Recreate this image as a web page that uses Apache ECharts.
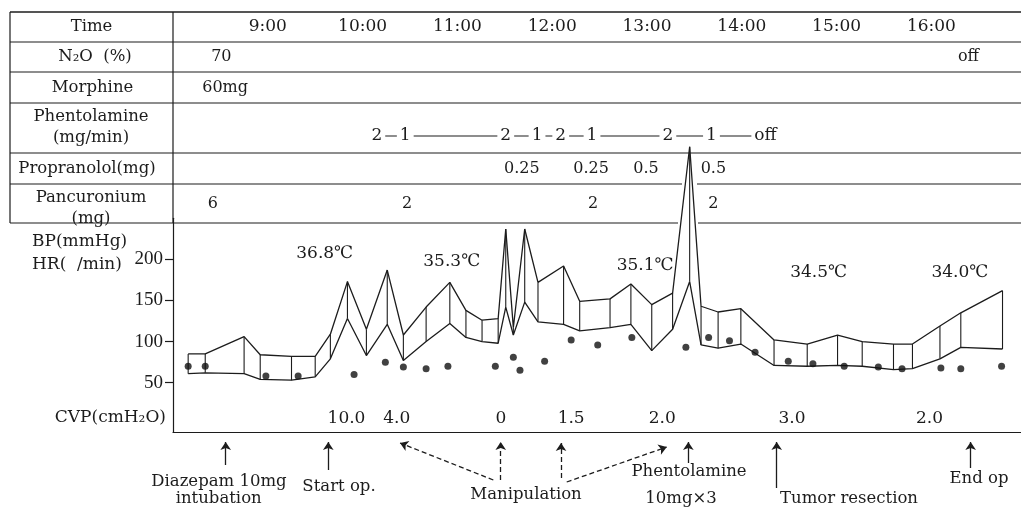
<!DOCTYPE html>
<html><head><meta charset="utf-8">
<script src="https://cdn.jsdelivr.net/npm/echarts@6/dist/echarts.min.js"></script>
<style>html,body{margin:0;padding:0;background:#fff}#c{width:1021px;height:508px}</style>
</head><body><div id="c"></div>
<script>
// ---------------- DATA (time in decimal hours) ----------------
const timeHours = [9, 10, 11, 12, 13, 14, 15, 16];
const timeLabels = ['9:00', '10:00', '11:00', '12:00', '13:00', '14:00', '15:00', '16:00'];

const rowLabels = ['Time', 'N₂O  (%)', 'Morphine', 'Phentolamine\n(mg/min)', 'Propranolol(mg)', 'Pancuronium\n(mg)'];

const n2oTime = [8.51, 16.39];
const n2oLabel = ['70', 'off'];
const morphineTime = [8.55];
const morphineLabel = ['60mg'];
const phentolamineTime = [10.15, 10.45, 11.51, 11.84, 12.09, 12.42, 13.22, 13.68, 14.25];
const phentolamineLabel = ['2', '1', '2', '1', '2', '1', '2', '1', 'off'];
const propranololTime = [11.68, 12.41, 12.99, 13.70];
const propranololLabel = ['0.25', '0.25', '0.5', '0.5'];
const pancuroniumTime = [8.42, 10.47, 12.43, 13.70];
const pancuroniumLabel = ['6', '2', '2', '2'];

const bpTime = [8.16, 8.34, 8.75, 8.92, 9.25, 9.50, 9.66, 9.84, 10.04, 10.26, 10.43, 10.67, 10.92, 11.09, 11.26, 11.43, 11.51, 11.59, 11.71, 11.85, 12.12, 12.29, 12.61, 12.83, 13.05, 13.27, 13.45, 13.57, 13.75, 13.99, 14.34, 14.69, 15.01, 15.27, 15.60, 15.80, 16.09, 16.31, 16.75];
const bpSys = [85, 85, 106, 84, 82, 82, 109, 173, 115, 187, 108, 142, 172, 138, 126, 128, 237, 117, 237, 172, 192, 149, 152, 170, 145, 159, 337, 143, 136, 140, 102, 97, 108, 100, 97, 97, 119, 135, 162];
const bpDia = [61, 62, 61, 54, 53, 57, 79, 128, 83, 121, 77, 100, 122, 105, 100, 98, 142, 108, 148, 124, 121, 113, 117, 121, 89, 115, 173, 96, 92, 97, 71, 70, 71, 70, 66, 67, 79, 93, 91];

const hrTime = [8.16, 8.34, 8.98, 9.32, 9.91, 10.24, 10.43, 10.67, 10.90, 11.40, 11.59, 11.66, 11.92, 12.20, 12.48, 12.84, 13.41, 13.65, 13.87, 14.14, 14.49, 14.75, 15.08, 15.44, 15.69, 16.10, 16.31, 16.74];
const hrVal = [70, 70, 58, 58, 60, 75, 69, 67, 70, 70, 81, 65, 76, 102, 96, 105, 93, 105, 101, 87, 76, 73, 70, 69, 67, 68, 67, 70];

const tempTime = [9.60, 10.94, 12.98, 14.81, 16.30];
const tempVal = [207, 197, 193, 184, 184];
const tempLabel = ['36.8℃', '35.3℃', '35.1℃', '34.5℃', '34.0℃'];

const cvpTime = [9.83, 10.36, 11.46, 12.20, 13.16, 14.53, 15.98];
const cvpLabel = ['10.0', '4.0', '0', '1.5', '2.0', '3.0', '2.0'];
const cvpRowLevel = 6.5;

const bpTicks = [50, 100, 150, 200];

// event annotations below the time axis (x: hours, y: depth below axis)
const eventArrowFrom = [[8.556, 33], [9.638, 38], [11.379, 48], [11.457, 48], [12.093, 46], [12.153, 50], [13.436, 31], [14.368, 56], [16.414, 36]];
const eventArrowTo = [[8.556, 10], [9.638, 10], [10.395, 11], [11.457, 10], [12.093, 11], [13.208, 15], [13.436, 10], [14.368, 10], [16.414, 10]];
const eventArrowDashed = [false, false, true, true, true, true, false, false, false];
const eventLabels = ['Diazepam 10mg', 'intubation', 'Start op.', 'Manipulation', 'Phentolamine', '10mg×3', 'Tumor resection', 'End op'];
const eventLabelTime = [8.485, 8.482, 9.751, 11.724, 13.443, 13.359, 15.131, 16.502];
const eventLabelDepth = [50, 67, 55, 63, 40, 67, 67, 47];

// ---------------- LAYOUT ----------------
const FONT = '"DejaVu Serif", "Liberation Serif", serif';
const INK = '#1c1c1c';
const LEFT = 173, WIDTH = 848, XMIN = 8, XMAX = 16.945;
const rowEdges = [12, 42, 72, 103, 153, 184, 223];
const rowTextLevel = [0.5, 0.5, 0.5, 0.34, 0.5, 0.5];

const grids = [];
for (let i = 0; i < 6; i++) grids.push({left: LEFT, width: WIDTH, top: rowEdges[i], height: rowEdges[i + 1] - rowEdges[i]});
grids.push({left: LEFT, width: WIDTH, top: 218.3, height: 213.7}); // main, idx 6
grids.push({left: LEFT, width: WIDTH, top: 432, height: 76});      // events, idx 7

const xAxes = grids.map((g, i) => ({
  gridIndex: i, type: 'value', min: XMIN, max: XMAX,
  show: i === 6,
  axisLine: {show: i === 6, onZero: false, lineStyle: {color: INK, width: 1.2}},
  axisTick: {show: false}, axisLabel: {show: false}, splitLine: {show: false}
}));
const yAxes = grids.map((g, i) => {
  if (i === 6) return {
    gridIndex: 6, type: 'value', min: -10, max: 250,
    axisLine: {show: true, lineStyle: {color: INK, width: 1.2}},
    axisTick: {show: true, length: 8, customValues: bpTicks, lineStyle: {color: INK, width: 1.2}},
    axisLabel: {customValues: bpTicks, margin: 10, fontFamily: '"Liberation Serif", serif', fontSize: 19, color: INK},
    splitLine: {show: false}
  };
  if (i === 7) return {gridIndex: 7, type: 'value', min: 0, max: 76, inverse: true, show: false};
  return {gridIndex: i, type: 'value', min: 0, max: 1, show: false};
});

function textSeries(gi, xs, ys, labels, size, extra) {
  return {
    type: 'custom', xAxisIndex: gi, yAxisIndex: gi, silent: true, z: 6,
    data: xs.map((x, i) => [x, Array.isArray(ys) ? ys[i] : ys]),
    renderItem: (params, api) => {
      const p = api.coord([api.value(0), api.value(1)]);
      return {
        type: 'text', x: p[0], y: p[1], z2: 10,
        style: Object.assign({
          text: labels[params.dataIndex], fill: INK, font: size + 'px ' + FONT,
          align: 'center', verticalAlign: 'middle', textAlign: 'center', textVerticalAlign: 'middle'
        }, extra || {})
      };
    }
  };
}

const series = [];
// table rows
series.push(textSeries(0, timeHours, rowTextLevel[0], timeLabels, 17));
series.push(textSeries(1, n2oTime, rowTextLevel[1], n2oLabel, 16));
series.push(textSeries(2, morphineTime, rowTextLevel[2], morphineLabel, 16));
series.push({
  type: 'line', xAxisIndex: 3, yAxisIndex: 3, symbol: 'none', silent: true,
  data: phentolamineTime.map(t => [t, rowTextLevel[3]]),
  lineStyle: {color: INK, width: 1.2}, z: 3
});
series.push(textSeries(3, phentolamineTime, rowTextLevel[3], phentolamineLabel, 17, {backgroundColor: '#fff', padding: [0, 3]}));
series.push(textSeries(4, propranololTime, rowTextLevel[4], propranololLabel, 16));
series.push(textSeries(5, pancuroniumTime, rowTextLevel[5], pancuroniumLabel, 16));

// BP band
series.push({
  type: 'line', xAxisIndex: 6, yAxisIndex: 6, symbol: 'none', clip: false, silent: true, z: 4,
  data: bpTime.map((t, i) => [t, bpSys[i]]), lineStyle: {color: INK, width: 1.3}
});
series.push({
  type: 'line', xAxisIndex: 6, yAxisIndex: 6, symbol: 'none', clip: false, silent: true, z: 4,
  data: bpTime.map((t, i) => [t, bpDia[i]]), lineStyle: {color: INK, width: 1.3}
});
series.push({
  type: 'custom', xAxisIndex: 6, yAxisIndex: 6, silent: true, z: 4, clip: false,
  data: bpTime.map((t, i) => [t, bpSys[i], bpDia[i]]),
  encode: {x: 0, y: [1, 2]},
  renderItem: (params, api) => {
    const a = api.coord([api.value(0), api.value(1)]);
    const b = api.coord([api.value(0), api.value(2)]);
    return {type: 'line', shape: {x1: a[0], y1: a[1], x2: b[0], y2: b[1]}, style: {stroke: INK, lineWidth: 1.1}};
  }
});
// HR dots
series.push({
  type: 'scatter', xAxisIndex: 6, yAxisIndex: 6, silent: true, z: 5,
  symbolSize: 7, itemStyle: {color: '#111'},
  data: hrTime.map((t, i) => [t, hrVal[i]])
});
// temperatures, CVP
series.push(textSeries(6, tempTime, tempVal, tempLabel, 17));
series.push(textSeries(6, cvpTime, cvpRowLevel, cvpLabel, 17));

// events
series.push({
  type: 'lines', coordinateSystem: 'cartesian2d', xAxisIndex: 7, yAxisIndex: 7, silent: true, z: 5,
  symbol: ['none', 'arrow'], symbolSize: 8,
  lineStyle: {color: INK, width: 1.3, opacity: 1, curveness: 0},
  data: eventArrowFrom.map((f, i) => ({
    coords: [f, eventArrowTo[i]],
    lineStyle: {type: eventArrowDashed[i] ? [5, 3] : 'solid', color: INK, width: 1.3, opacity: 1}
  }))
});
series.push(textSeries(7, eventLabelTime, eventLabelDepth, eventLabels, 16.5));

// ---------------- FRAME & ROW LABELS ----------------
function hline(y, x1, x2, w) {
  return {type: 'line', z: 1, shape: {x1: x1, y1: y, x2: x2, y2: y}, style: {stroke: INK, lineWidth: w || 1.2}};
}
const graphic = [
  hline(12, 10, 1021, 1.4), hline(42, 10, 1021), hline(72, 10, 1021), hline(103, 10, 1021),
  hline(153, 10, 1021), hline(184, 10, 682), hline(184, 697, 1021),
  hline(223, 10, 678), hline(223, 698, 1021),
  {type: 'line', z: 1, shape: {x1: 10, y1: 12, x2: 10, y2: 223}, style: {stroke: INK, lineWidth: 1.2}},
  {type: 'line', z: 1, shape: {x1: LEFT, y1: 12, x2: LEFT, y2: 223}, style: {stroke: INK, lineWidth: 1.2}}
];
const rowLabelCenterY = [27, 57, 87.5, 127, 168.5, 208];
const rowLabelCenterX = [91.5, 95, 92.5, 91, 87, 91];
rowLabels.forEach((t, i) => graphic.push({
  type: 'text', x: rowLabelCenterX[i], y: rowLabelCenterY[i], z: 2,
  style: {text: t, font: '16.5px ' + FONT, fill: INK, textAlign: 'center', textVerticalAlign: 'middle', align: 'center', verticalAlign: 'middle', lineHeight: 21}
}));
graphic.push({type: 'text', x: 32, y: 241.7, style: {text: 'BP(mmHg)', font: '17px ' + FONT, fill: INK, textAlign: 'left', textVerticalAlign: 'middle', align: 'left', verticalAlign: 'middle'}});
graphic.push({type: 'text', x: 32, y: 265, style: {text: 'HR(  /min)', font: '17px ' + FONT, fill: INK, textAlign: 'left', textVerticalAlign: 'middle', align: 'left', verticalAlign: 'middle'}});
graphic.push({type: 'text', x: 166, y: 418, style: {text: 'CVP(cmH₂O)', font: '17px ' + FONT, fill: INK, textAlign: 'right', textVerticalAlign: 'middle', align: 'right', verticalAlign: 'middle'}});

const chart = echarts.init(document.getElementById('c'), null, {renderer: 'canvas'});
chart.setOption({
  backgroundColor: '#fff',
  animation: false,
  grid: grids, xAxis: xAxes, yAxis: yAxes,
  series: series,
  graphic: graphic
});
</script></body></html>
